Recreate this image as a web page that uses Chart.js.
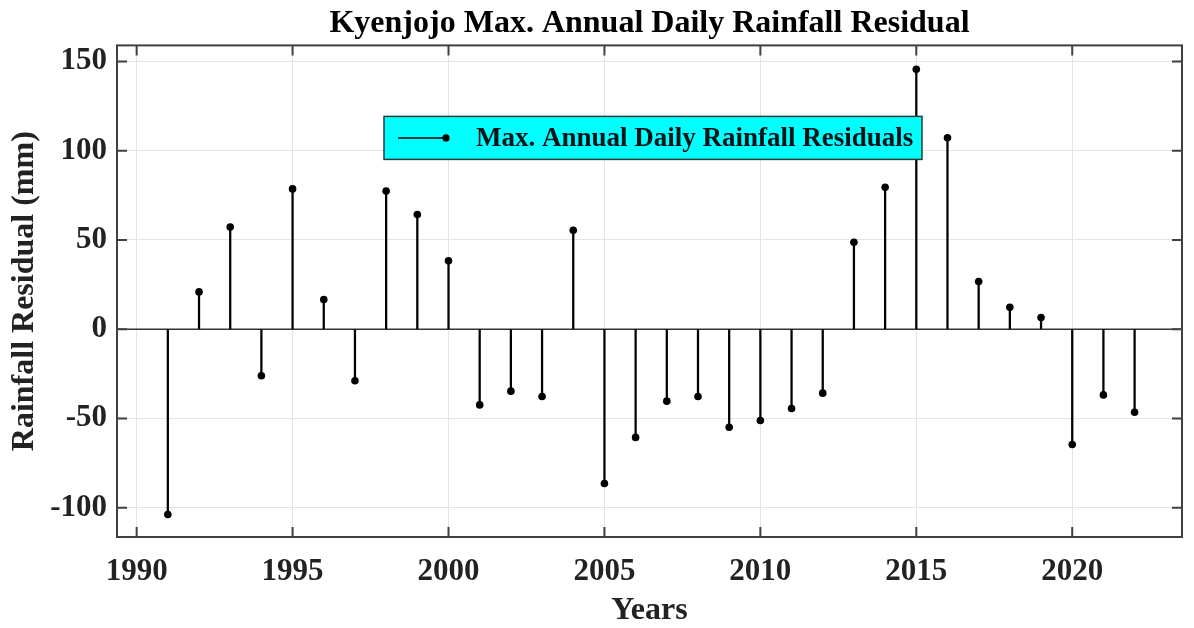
<!DOCTYPE html>
<html>
<head>
<meta charset="utf-8">
<script src="https://cdn.jsdelivr.net/npm/chart.js@4/dist/chart.umd.min.js"></script>
<style>
  html, body { margin: 0; padding: 0; background: #ffffff; }
  #wrap { width: 1194px; height: 628px; }
</style>
</head>
<body>
<div id="wrap"><canvas id="chart" width="1194" height="628"></canvas></div>
<script>
// Residuals of the maximum annual daily rainfall at Kyenjojo (mm)
const years = [1991, 1992, 1993, 1994, 1995, 1996, 1997, 1998, 1999, 2000,
               2001, 2002, 2003, 2004, 2005, 2006, 2007, 2008, 2009, 2010,
               2011, 2012, 2013, 2014, 2015, 2016, 2017, 2018, 2019, 2020,
               2021, 2022];
const residuals = [-103.8, 20.9, 57.3, -26.1, 78.6, 16.6, -28.9, 77.4, 64.2, 38.3,
                   -42.4, -34.7, -37.7, 55.4, -86.4, -60.6, -40.3, -37.7, -54.9, -51.1,
                   -44.4, -35.8, 48.7, 79.5, 145.6, 107.3, 26.7, 12.3, 6.5, -64.6,
                   -36.8, -46.5];

const xTickValues = [1990, 1995, 2000, 2005, 2010, 2015, 2020];
const yTickValues = [-100, -50, 0, 50, 100, 150];

const chartTitle = 'Kyenjojo Max. Annual Daily Rainfall Residual';
const seriesLabel = 'Max. Annual Daily Rainfall Residuals';
const xAxisTitle = 'Years';
const yAxisTitle = 'Rainfall Residual (mm)';

const FONT = "'Liberation Serif', 'Times New Roman', serif";
const TEXT = '#222222';
const FRAME = '#404040';

const points = years.map((x, i) => ({ x: x, y: residuals[i] }));

// Baseline at zero, drawn under the stems
const baselinePlugin = {
  id: 'stemBaseline',
  beforeDatasetsDraw(chart) {
    const { ctx, chartArea, scales } = chart;
    const y0 = scales.y.getPixelForValue(0);
    ctx.save();
    ctx.strokeStyle = '#333333';
    ctx.lineWidth = 1.5;
    ctx.beginPath();
    ctx.moveTo(chartArea.left, y0);
    ctx.lineTo(chartArea.right, y0);
    ctx.stroke();
    ctx.restore();
  }
};

// Axes box with inward tick marks on all four sides
const framePlugin = {
  id: 'axesFrame',
  afterDraw(chart) {
    const { ctx, chartArea: a, scales } = chart;
    const len = 10;
    ctx.save();
    ctx.strokeStyle = FRAME;
    ctx.lineWidth = 2;
    ctx.beginPath();
    scales.x.ticks.forEach(t => {
      const px = scales.x.getPixelForValue(t.value);
      ctx.moveTo(px, a.bottom); ctx.lineTo(px, a.bottom - len);
      ctx.moveTo(px, a.top); ctx.lineTo(px, a.top + len);
    });
    scales.y.ticks.forEach(t => {
      const py = scales.y.getPixelForValue(t.value);
      ctx.moveTo(a.left, py); ctx.lineTo(a.left + len, py);
      ctx.moveTo(a.right, py); ctx.lineTo(a.right - len, py);
    });
    ctx.stroke();
    ctx.strokeRect(a.left, a.top, a.right - a.left, a.bottom - a.top);
    ctx.restore();
  }
};

// Boxed legend with a cyan fill, placed inside the plot area
const legendBoxPlugin = {
  id: 'legendBox',
  afterDatasetsDraw(chart) {
    const { ctx, chartArea: a } = chart;
    const ds = chart.data.datasets[1];
    const bx = a.left + 267, by = a.top + 71, bw = 538, bh = 43;
    ctx.save();
    ctx.fillStyle = '#00ffff';
    ctx.fillRect(bx, by, bw, bh);
    ctx.strokeStyle = '#2a3a3a';
    ctx.lineWidth = 1.5;
    ctx.strokeRect(bx, by, bw, bh);
    const cy = by + bh / 2;
    ctx.strokeStyle = '#000000';
    ctx.lineWidth = 1.5;
    ctx.beginPath();
    ctx.moveTo(bx + 14, cy);
    ctx.lineTo(bx + 62, cy);
    ctx.stroke();
    ctx.fillStyle = '#000000';
    ctx.beginPath();
    ctx.arc(bx + 62, cy, 3.6, 0, Math.PI * 2);
    ctx.fill();
    ctx.fillStyle = '#0a1418';
    ctx.font = "bold 27px " + FONT;
    ctx.textBaseline = 'middle';
    ctx.textAlign = 'left';
    ctx.fillText(ds.label, bx + 92, cy + 1);
    ctx.restore();
  }
};

new Chart(document.getElementById('chart'), {
  type: 'bar',
  data: {
    datasets: [
      {
        type: 'bar',
        label: seriesLabel + ' stems',
        data: points,
        backgroundColor: '#000000',
        borderWidth: 0,
        barThickness: 1.6,
        order: 2
      },
      {
        type: 'scatter',
        label: seriesLabel,
        data: points,
        showLine: false,
        pointRadius: 3.8,
        pointHoverRadius: 3.8,
        pointBackgroundColor: '#000000',
        pointBorderWidth: 0,
        order: 1
      }
    ]
  },
  options: {
    responsive: false,
    devicePixelRatio: 1,
    animation: false,
    events: [],
    layout: { padding: { left: 0, right: 12, top: 0, bottom: 0 } },
    plugins: {
      legend: { display: false },
      tooltip: { enabled: false },
      title: {
        display: true,
        text: chartTitle,
        fullSize: false,
        color: '#000000',
        font: { family: FONT, size: 32, weight: 'bold', lineHeight: 1.2 },
        padding: { top: 5, bottom: 2 }
      }
    },
    scales: {
      x: {
        type: 'linear',
        min: 1989.37,
        max: 2023.52,
        offset: false,
        afterBuildTicks(scale) { scale.ticks = xTickValues.map(v => ({ value: v })); },
        afterFit(scale) { scale.height = 91; },
        grid: { color: '#e4e4e4', lineWidth: 1, drawTicks: false, offset: false },
        border: { display: false },
        ticks: {
          padding: 16,
          color: TEXT,
          font: { family: FONT, size: 31, weight: 'bold' },
          maxRotation: 0,
          callback: v => String(v)
        },
        title: {
          display: true,
          text: xAxisTitle,
          color: TEXT,
          font: { family: FONT, size: 32, weight: 'bold', lineHeight: 1 },
          padding: { top: 0, bottom: 1 }
        }
      },
      y: {
        type: 'linear',
        min: -116.4,
        max: 159,
        afterBuildTicks(scale) { scale.ticks = yTickValues.map(v => ({ value: v })); },
        afterFit(scale) { scale.width = 117; },
        grid: { color: '#e4e4e4', lineWidth: 1, drawTicks: false },
        border: { display: false },
        ticks: {
          padding: 10,
          color: TEXT,
          font: { family: FONT, size: 31, weight: 'bold' },
          callback: v => String(v)
        },
        title: {
          display: true,
          text: yAxisTitle,
          color: TEXT,
          font: { family: FONT, size: 32, weight: 'bold', lineHeight: 1 },
          padding: { top: 9, bottom: 0 }
        }
      }
    }
  },
  plugins: [baselinePlugin, legendBoxPlugin, framePlugin]
});
</script>
</body>
</html>
